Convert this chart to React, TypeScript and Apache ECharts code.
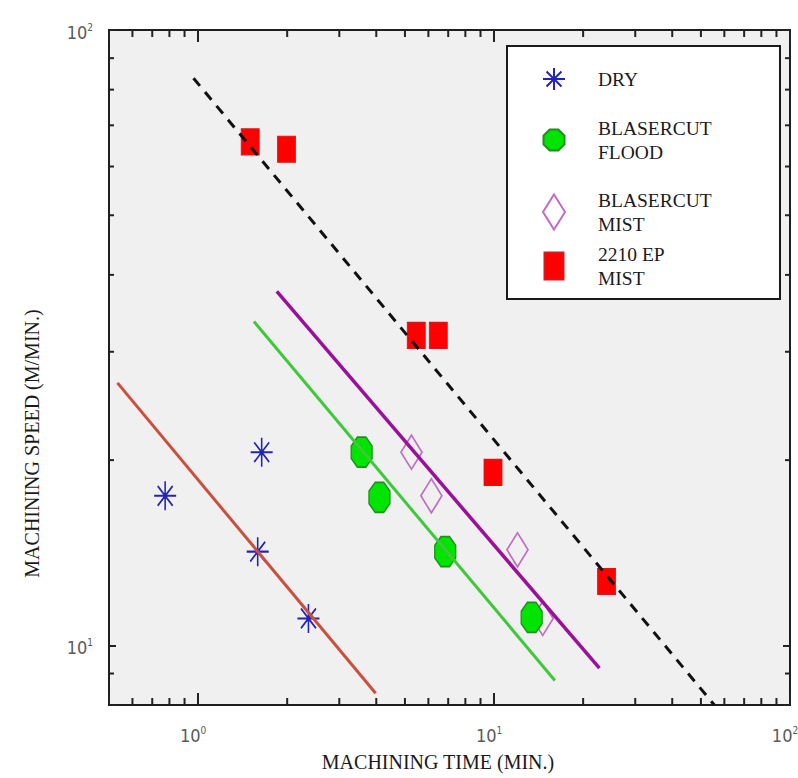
import React, { useEffect, useRef } from 'react';
import * as echarts from 'echarts';

// ---- Data ----
const seriesNames = ['DRY', 'BLASERCUT\nFLOOD', 'BLASERCUT\nMIST', '2210 EP\nMIST'];

const dryTime = [0.774, 1.64, 1.59, 2.36];
const drySpeed = [17.5, 20.6, 14.2, 11.06];

const floodTime = [3.57, 4.1, 6.84, 13.4];
const floodSpeed = [20.6, 17.4, 14.2, 11.1];

const mistTime = [5.26, 6.14, 12.0, 14.6];
const mistSpeed = [20.6, 17.5, 14.3, 11.06];

const epTime = [1.5, 1.99, 5.46, 6.48, 9.92, 24.0];
const epSpeed = [65.8, 64.0, 31.9, 31.9, 19.1, 12.7];

// fitted lines (end points)
const dryFitTime = [0.534, 3.98];
const dryFitSpeed = [26.7, 8.36];
const floodFitTime = [1.544, 16.05];
const floodFitSpeed = [33.6, 8.77];
const mistFitTime = [1.845, 22.7];
const mistFitSpeed = [37.6, 9.18];
const epFitTime = [0.965, 55.5];
const epFitSpeed = [83.5, 8.0];

// axis ticks
const xMinorTicks = [0.6, 0.7, 0.8, 0.9, 2, 3, 4, 5, 6, 7, 8, 9, 20, 30, 40, 50, 60, 70, 80, 90];
const yMinorTicks = [9, 20, 30, 40, 50, 60, 70, 80, 90];
const xRange = [0.5, 100];
const yRange = [8, 100];

const zip = (a: number[], b: number[]) => a.map((v, i) => [v, b[i]]);

const NARROW = "'Liberation Sans Narrow', 'DejaVu Sans Condensed', 'Roboto Condensed', 'Liberation Sans', sans-serif";
const SERIF = "'Liberation Serif', 'DejaVu Serif', serif";

const ASTERISK = 'path://M5 0L5 10M0 5L10 5M1.6 1.6L8.4 8.4M8.4 1.6L1.6 8.4M5 4.3A0.7 0.7 0 1 0 5.01 4.3Z';
const OCTAGON = 'path://M2.93 0L7.07 0L10 2.93L10 7.07L7.07 10L2.93 10L0 7.07L0 2.93Z';

if (typeof document !== 'undefined') {
  document.body.style.margin = '0';
  document.body.style.overflow = 'hidden';
}

const supFmt = (v: number) => {
  const e = Math.log10(v);
  const r = Math.round(e);
  if (Math.abs(e - r) > 1e-6) return '';
  return `{b|10}{s|${r}}`;
};

const labelRich = {
  b: { fontSize: 18, fontFamily: NARROW, color: '#5a5a5a', lineHeight: 20 },
  s: { fontSize: 10, fontFamily: NARROW, color: '#5a5a5a', verticalAlign: 'top', lineHeight: 10 },
};

const App: React.FC = () => {
  const ref = useRef<HTMLDivElement>(null);

  useEffect(() => {
    document.body.style.margin = '0';
    if (!ref.current) return;
    const chart = echarts.init(ref.current, null, { renderer: 'svg', width: 798, height: 778 });

    const tickStyle = { stroke: '#222', lineWidth: 2 };

    const legendCommon = {
      orient: 'vertical',
      padding: 0,
      selectedMode: false,
      itemGap: 0,
      z: 5,
    };
    const legendText = (pad: number) => ({
      fontFamily: SERIF,
      fontSize: 19.5,
      lineHeight: 24,
      color: '#1a1a1a',
      padding: [0, 0, 0, pad],
    });

    const option: any = {
      animation: false,
      backgroundColor: '#ffffff',
      grid: {
        left: 109,
        top: 30,
        right: 8,
        bottom: 73,
        containLabel: false,
        outerBoundsMode: 'none',
        show: true,
        backgroundColor: '#f0f0f0',
        borderColor: '#1e1e1e',
        borderWidth: 2,
      },
      graphic: {
        elements: [
          {
            type: 'rect',
            z: 3,
            shape: { x: 507, y: 46, width: 273, height: 253 },
            style: { fill: '#ffffff', stroke: '#1a1a1a', lineWidth: 2 },
          },
        ],
      },
      legend: [
        { ...legendCommon, data: [seriesNames[0]], left: 542, top: 67, itemWidth: 22, itemHeight: 29, textStyle: legendText(28) },
        { ...legendCommon, data: [seriesNames[1]], left: 542.5, top: 116, itemWidth: 21, itemHeight: 31, textStyle: legendText(28.5) },
        { ...legendCommon, data: [seriesNames[2]], left: 542, top: 188, itemWidth: 22, itemHeight: 35, textStyle: legendText(28) },
        { ...legendCommon, data: [seriesNames[3]], left: 543.5, top: 242, itemWidth: 19, itemHeight: 27, textStyle: legendText(29.5) },
      ],
      xAxis: [
        {
          type: 'log',
          logBase: 10,
          min: xRange[0],
          max: xRange[1],
          position: 'bottom',
          name: 'MACHINING TIME (MIN.)',
          nameLocation: 'middle',
          nameGap: 47,
          nameTextStyle: { fontFamily: SERIF, fontSize: 20, color: '#1a1a1a', padding: [0, 23, 0, 0] },
          axisLine: { show: true, lineStyle: { color: '#1e1e1e', width: 2 } },
          axisTick: { show: true, inside: true, length: 12, lineStyle: { color: '#222', width: 2 } },
          axisLabel: { formatter: supFmt, rich: labelRich, margin: 20, padding: [0, 10, 0, 0] },
          splitLine: { show: false },
        },
        {
          type: 'log',
          logBase: 10,
          min: xRange[0],
          max: xRange[1],
          position: 'top',
          axisLine: { show: false },
          axisTick: { show: true, inside: true, length: 12, lineStyle: { color: '#222', width: 2 } },
          axisLabel: { show: false },
          splitLine: { show: false },
        },
      ],
      yAxis: [
        {
          type: 'log',
          logBase: 10,
          min: yRange[0],
          max: yRange[1],
          position: 'left',
          name: 'MACHINING SPEED (M/MIN.)',
          nameLocation: 'middle',
          nameGap: 67,
          nameTextStyle: { fontFamily: SERIF, fontSize: 20, color: '#1a1a1a', padding: [0, 152, 0, 0] },
          axisLine: { show: true, lineStyle: { color: '#1e1e1e', width: 2 } },
          axisTick: { show: true, inside: true, length: 7, lineStyle: { color: '#222', width: 2 } },
          axisLabel: { formatter: supFmt, rich: labelRich, margin: 16, padding: [4, 0, 0, 0] },
          splitLine: { show: false },
        },
        {
          type: 'log',
          logBase: 10,
          min: yRange[0],
          max: yRange[1],
          position: 'right',
          axisLine: { show: false },
          axisTick: { show: true, inside: true, length: 7, lineStyle: { color: '#222', width: 2 } },
          axisLabel: { show: false },
          splitLine: { show: false },
        },
      ],
      series: [
        {
          type: 'custom',
          silent: true,
          xAxisIndex: 0,
          yAxisIndex: 0,
          data: xMinorTicks.map((v) => [v, 10]),
          renderItem: (params: any, api: any) => {
            const cs = params.coordSys;
            const x = api.coord([api.value(0), 10])[0];
            return {
              type: 'group',
              children: [
                { type: 'line', shape: { x1: x, y1: cs.y + cs.height, x2: x, y2: cs.y + cs.height - 7 }, style: tickStyle },
                { type: 'line', shape: { x1: x, y1: cs.y, x2: x, y2: cs.y + 7 }, style: tickStyle },
              ],
            };
          },
          z: 4,
        },
        {
          type: 'custom',
          silent: true,
          xAxisIndex: 0,
          yAxisIndex: 0,
          data: yMinorTicks.map((v) => [1, v]),
          renderItem: (params: any, api: any) => {
            const cs = params.coordSys;
            const y = api.coord([1, api.value(1)])[1];
            return {
              type: 'group',
              children: [
                { type: 'line', shape: { x1: cs.x, y1: y, x2: cs.x + 5, y2: y }, style: tickStyle },
                { type: 'line', shape: { x1: cs.x + cs.width, y1: y, x2: cs.x + cs.width - 5, y2: y }, style: tickStyle },
              ],
            };
          },
          z: 4,
        },
        {
          name: seriesNames[2],
          type: 'scatter',
          symbol: 'diamond',
          symbolSize: [21, 34],
          itemStyle: { color: 'rgba(0,0,0,0)', borderColor: '#c06ec4', borderWidth: 1.8, opacity: 1 },
          data: zip(mistTime, mistSpeed),
          z: 2,
        },
        {
          name: seriesNames[1],
          type: 'scatter',
          symbol: OCTAGON,
          symbolSize: [21, 30],
          itemStyle: { color: '#00e400', borderColor: '#1f8f1f', borderWidth: 1.5, opacity: 1 },
          data: zip(floodTime, floodSpeed),
          z: 2,
        },
        {
          name: seriesNames[0],
          type: 'scatter',
          symbol: ASTERISK,
          symbolSize: [22, 29],
          itemStyle: { color: 'rgba(0,0,0,0)', borderColor: '#2424b4', borderWidth: 1.8, opacity: 1 },
          data: zip(dryTime, drySpeed),
          z: 2,
        },
        {
          name: seriesNames[3],
          type: 'scatter',
          symbol: 'rect',
          symbolSize: [18, 26],
          itemStyle: { color: '#ff0000', borderColor: '#d81818', borderWidth: 1, opacity: 1 },
          data: zip(epTime, epSpeed),
          z: 2,
        },
        {
          type: 'line',
          symbol: 'none',
          data: zip(dryFitTime, dryFitSpeed),
          lineStyle: { color: '#c9503e', width: 3 },
          z: 3,
        },
        {
          type: 'line',
          symbol: 'none',
          data: zip(floodFitTime, floodFitSpeed),
          lineStyle: { color: '#3fc83a', width: 3 },
          z: 3,
        },
        {
          type: 'line',
          symbol: 'none',
          data: zip(mistFitTime, mistFitSpeed),
          lineStyle: { color: '#9a109a', width: 3.5 },
          z: 3,
        },
        {
          type: 'line',
          symbol: 'none',
          data: zip(epFitTime, epFitSpeed),
          lineStyle: { color: '#111111', width: 3, type: [10, 8] },
          z: 3,
        },
      ],
    };

    chart.setOption(option);
    return () => chart.dispose();
  }, []);

  return (
    <div
      ref={ref}
      style={{ position: 'fixed', left: 0, top: 0, width: 798, height: 778, background: '#fff' }}
    />
  );
};

export default App;
